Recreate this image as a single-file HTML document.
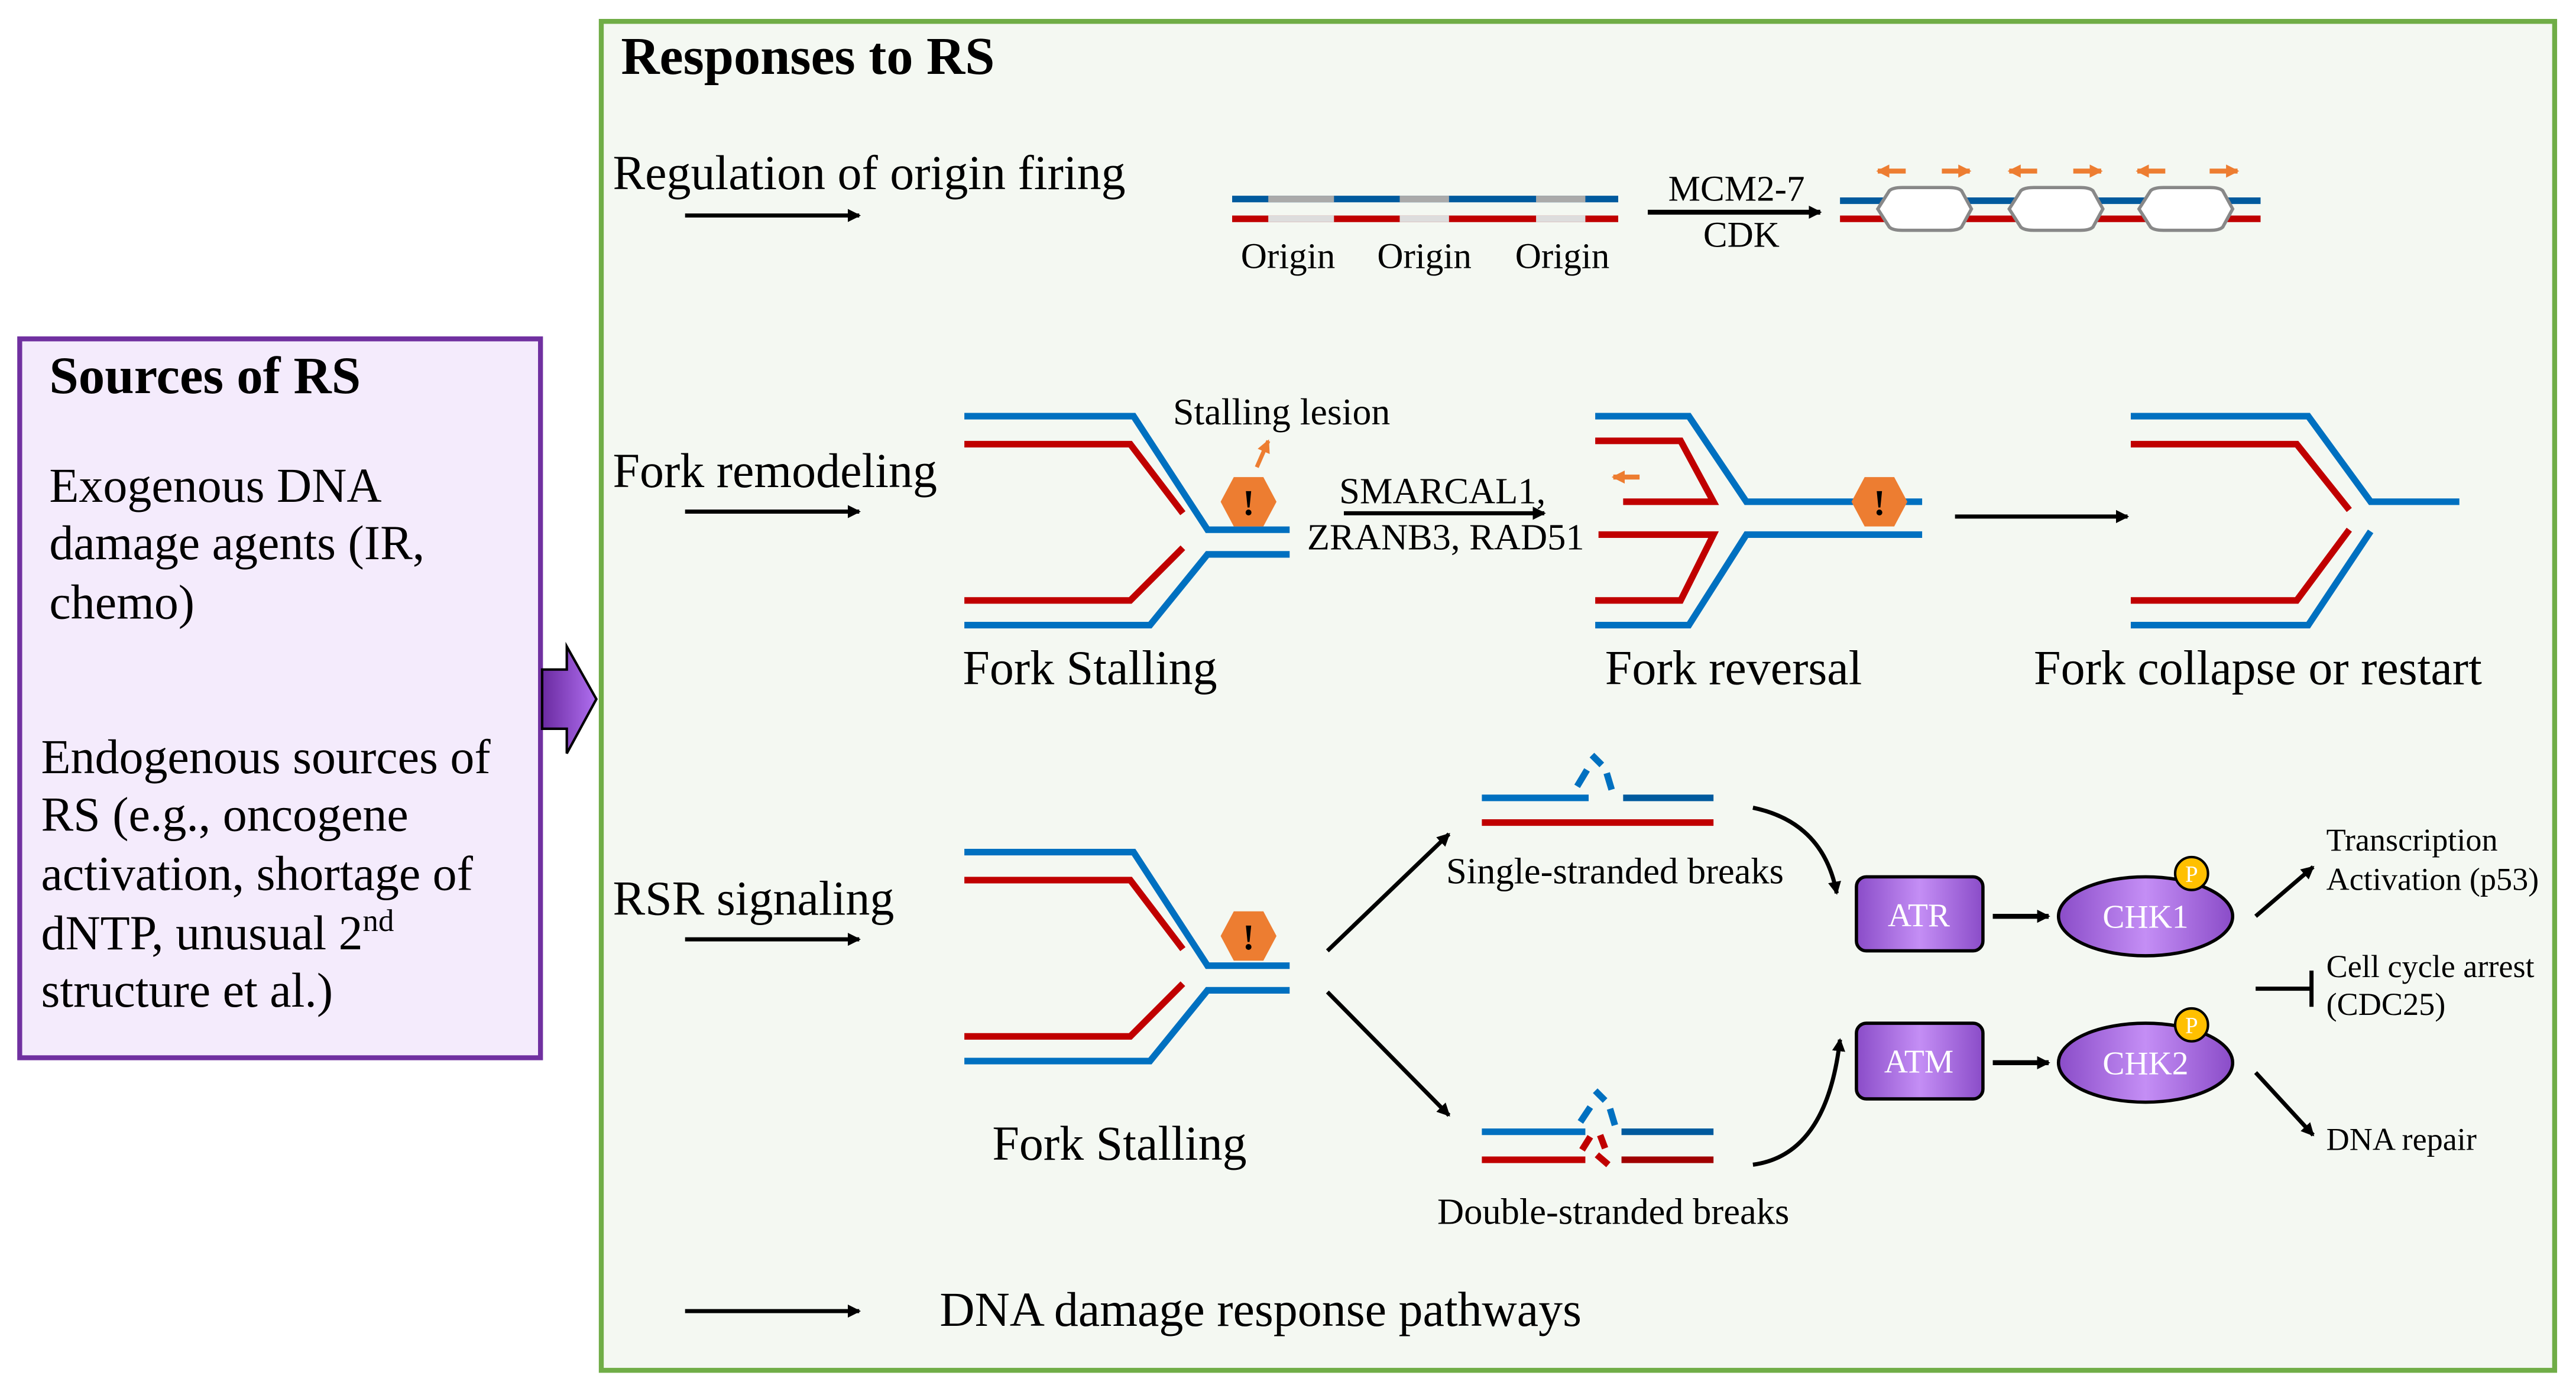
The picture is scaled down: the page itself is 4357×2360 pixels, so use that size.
<!DOCTYPE html>
<html><head><meta charset="utf-8"><style>html,body{margin:0;padding:0;background:#fff}svg{display:block}</style></head>
<body>
<svg width="4357" height="2360" viewBox="0 0 1568 848" preserveAspectRatio="none" xmlns="http://www.w3.org/2000/svg" font-family="'Liberation Serif', serif">
<defs>
<marker id="ah" markerWidth="8" markerHeight="8" refX="7" refY="4" orient="auto" markerUnits="userSpaceOnUse"><path d="M0,0 L8,4 L0,8 Z" fill="#000"/></marker>
<marker id="ao" markerWidth="8" markerHeight="8" refX="7" refY="4" orient="auto" markerUnits="userSpaceOnUse"><path d="M0,0 L8,4 L0,8 Z" fill="#ed7d31"/></marker>
<linearGradient id="pg" x1="0" x2="1" y1="0" y2="0"><stop offset="0" stop-color="#8a4cc8"/><stop offset="0.5" stop-color="#c48ef5"/><stop offset="1" stop-color="#8a4cc8"/></linearGradient>
<linearGradient id="ag" x1="0" x2="1"><stop offset="0" stop-color="#6a2aa0"/><stop offset="1" stop-color="#b06ff0"/></linearGradient>
<g id="hex"><polygon points="-17,0 -9,-15 9,-15 17,0 9,15 -9,15" fill="#ed7d31"/><text x="0" y="8" font-size="22" font-weight="bold" text-anchor="middle" fill="#000">!</text></g>
<g id="fork" fill="none" stroke-width="4">
<polyline points="587,253 690,253 735,322 785,322" stroke="#0070c0"/>
<polyline points="587,270 688,270 720,312" stroke="#c00000"/>
<polyline points="587,365 688,365 720,333" stroke="#c00000"/>
<polyline points="587,380 700,380 735,337 785,337" stroke="#0070c0"/>
</g>
</defs>

<rect x="12" y="206" width="317" height="437" fill="#f4ebfc" stroke="#7030a0" stroke-width="3"/>
<text x="30" y="239" font-size="32" font-weight="bold">Sources of RS</text>
<g font-size="29.5">
<text x="30" y="305">Exogenous DNA</text>
<text x="30" y="340">damage agents (IR,</text>
<text x="30" y="376">chemo)</text>
<text x="25" y="470">Endogenous sources of</text>
<text x="25" y="505">RS (e.g., oncogene</text>
<text x="25" y="541">activation, shortage of</text>
<text x="25" y="577">dNTP, unusual 2<tspan font-size="19" dy="-11">nd</tspan></text>
<text x="25" y="612">structure et al.)</text>
</g>
<polygon points="330,407 345,407 345,393 363,425 345,458 345,443 330,443" fill="url(#ag)" stroke="#000" stroke-width="1.5"/>

<rect x="366" y="13" width="1189" height="820" fill="#f4f8f2" stroke="#70ad47" stroke-width="3"/>
<text x="378" y="45" font-size="32.5" font-weight="bold">Responses to RS</text>

<g font-size="29.5">
<text x="373" y="115">Regulation of origin firing</text>
<text x="373" y="296">Fork remodeling</text>
<text x="373" y="556">RSR signaling</text>
<text x="572" y="806">DNA damage response pathways</text>
</g>
<g stroke="#000" stroke-width="2.5" marker-end="url(#ah)">
<line x1="417" y1="131" x2="523" y2="131"/>
<line x1="417" y1="311" x2="523" y2="311"/>
<line x1="417" y1="571" x2="523" y2="571"/>
<line x1="417" y1="797" x2="523" y2="797"/>
</g>

<g stroke-width="4">
<line x1="750" y1="121" x2="985" y2="121" stroke="#005a9e"/>
<line x1="750" y1="133" x2="985" y2="133" stroke="#c00000"/>
<g stroke="#aaa"><line x1="772" y1="121" x2="812" y2="121"/><line x1="852" y1="121" x2="882" y2="121"/><line x1="935" y1="121" x2="965" y2="121"/></g>
<g stroke="#ddd"><line x1="772" y1="133" x2="812" y2="133"/><line x1="852" y1="133" x2="882" y2="133"/><line x1="935" y1="133" x2="965" y2="133"/></g>
</g>
<g font-size="22" text-anchor="middle"><text x="784" y="163">Origin</text><text x="867" y="163">Origin</text><text x="951" y="163">Origin</text>
<text x="1057" y="122">MCM2-7</text><text x="1060" y="150">CDK</text></g>
<line x1="1003" y1="129" x2="1108" y2="129" stroke="#000" stroke-width="3" marker-end="url(#ah)"/>
<line x1="1120" y1="122" x2="1376" y2="122" stroke="#005a9e" stroke-width="4"/>
<line x1="1120" y1="133" x2="1376" y2="133" stroke="#c00000" stroke-width="4"/>
<g fill="#fff" stroke="#888" stroke-width="2">
<path d="M1143,127 L1150,116 Q1152,114 1158,114 L1186,114 Q1192,114 1194,116 L1200,127 L1194,138 Q1192,140 1186,140 L1158,140 Q1152,140 1150,138 Z"/>
<path d="M1223,127 L1230,116 Q1232,114 1238,114 L1266,114 Q1272,114 1274,116 L1280,127 L1274,138 Q1272,140 1266,140 L1238,140 Q1232,140 1230,138 Z"/>
<path d="M1302,127 L1309,116 Q1311,114 1317,114 L1345,114 Q1351,114 1353,116 L1359,127 L1353,138 Q1351,140 1345,140 L1317,140 Q1311,140 1309,138 Z"/>
</g>
<g stroke="#ed7d31" stroke-width="3" marker-end="url(#ao)">
<line x1="1160" y1="104" x2="1143" y2="104"/><line x1="1182" y1="104" x2="1199" y2="104"/>
<line x1="1240" y1="104" x2="1223" y2="104"/><line x1="1262" y1="104" x2="1279" y2="104"/>
<line x1="1318" y1="104" x2="1301" y2="104"/><line x1="1345" y1="104" x2="1362" y2="104"/>
</g>

<use href="#fork"/>
<use href="#hex" x="760" y="305"/>
<line x1="765" y1="284" x2="772" y2="268" stroke="#ed7d31" stroke-width="2.5" marker-end="url(#ao)"/>
<text x="714" y="258" font-size="23">Stalling lesion</text>
<line x1="818" y1="312" x2="940" y2="312" stroke="#000" stroke-width="2.5" marker-end="url(#ah)"/>
<g font-size="22.5" text-anchor="middle"><text x="878" y="306">SMARCAL1,</text><text x="880" y="334">ZRANB3, RAD51</text></g>
<g fill="none" stroke-width="4">
<polyline points="971,253 1028,253 1063,305 1170,305" stroke="#0070c0"/>
<polyline points="971,268 1023,268 1043,305 988,305" stroke="#c00000"/>
<polyline points="971,365 1023,365 1043,325 973,325" stroke="#c00000"/>
<polyline points="971,380 1028,380 1063,325 1170,325" stroke="#0070c0"/>
</g>
<line x1="998" y1="290" x2="982" y2="290" stroke="#ed7d31" stroke-width="3" marker-end="url(#ao)"/>
<use href="#hex" x="1144" y="305"/>
<line x1="1190" y1="314" x2="1295" y2="314" stroke="#000" stroke-width="2.5" marker-end="url(#ah)"/>
<g fill="none" stroke-width="4">
<polyline points="1297,253 1405,253 1443,305 1497,305" stroke="#0070c0"/>
<polyline points="1297,270 1398,270 1430,310" stroke="#c00000"/>
<polyline points="1297,365 1398,365 1430,322" stroke="#c00000"/>
<polyline points="1297,380 1405,380 1443,323" stroke="#0070c0"/>
</g>
<g font-size="29.5"><text x="586" y="416">Fork Stalling</text><text x="977" y="416">Fork reversal</text><text x="1238" y="416">Fork collapse or restart</text></g>

<use href="#fork" y="265"/>
<use href="#hex" x="760" y="569"/>
<text x="604" y="705" font-size="29.5">Fork Stalling</text>
<g stroke="#000" stroke-width="2.5" marker-end="url(#ah)">
<line x1="808" y1="578" x2="882" y2="507"/>
<line x1="808" y1="603" x2="882" y2="678"/>
</g>
<g stroke-width="4">
<line x1="902" y1="485" x2="967" y2="485" stroke="#0070c0"/><line x1="988" y1="485" x2="1043" y2="485" stroke="#005a9e"/>
<line x1="902" y1="500" x2="1043" y2="500" stroke="#c00000"/>
<path d="M960,478 L966,468 M969,459 L975,465 M978,470 L981,480" stroke="#0070c0" fill="none"/>
<line x1="902" y1="688" x2="965" y2="688" stroke="#0070c0"/><line x1="987" y1="688" x2="1043" y2="688" stroke="#005a9e"/>
<line x1="902" y1="705" x2="965" y2="705" stroke="#c00000"/><line x1="987" y1="705" x2="1043" y2="705" stroke="#a00000"/>
<path d="M962,682 L968,673 M971,663 L977,669 M980,674 L983,684" stroke="#0070c0" fill="none"/>
<path d="M963,699 L968,691 M974,690 L977,698 M972,702 L979,708" stroke="#c00000" fill="none"/>
</g>
<g font-size="22.5" text-anchor="middle"><text x="983" y="537">Single-stranded breaks</text><text x="982" y="744">Double-stranded breaks</text></g>
<g fill="none" stroke="#000" stroke-width="2.5" marker-end="url(#ah)">
<path d="M1067,491 Q1110,500 1118,543"/>
<path d="M1067,708 Q1112,702 1120,632"/>
</g>
<rect x="1130" y="533" width="77" height="45" rx="6" fill="url(#pg)" stroke="#000" stroke-width="2"/>
<rect x="1130" y="622" width="77" height="46" rx="6" fill="url(#pg)" stroke="#000" stroke-width="2"/>
<ellipse cx="1306" cy="557" rx="53" ry="24" fill="url(#pg)" stroke="#000" stroke-width="2"/>
<ellipse cx="1306" cy="646" rx="53" ry="24" fill="url(#pg)" stroke="#000" stroke-width="2"/>
<g fill="#ffc000" stroke="#000" stroke-width="1.5"><circle cx="1334" cy="531" r="10"/><circle cx="1334" cy="623" r="10"/></g>
<g font-size="14" fill="#fff" text-anchor="middle"><text x="1334" y="536">P</text><text x="1334" y="628">P</text></g>
<g font-size="20" fill="#fff" text-anchor="middle"><text x="1168" y="563">ATR</text><text x="1168" y="652">ATM</text><text x="1306" y="564">CHK1</text><text x="1306" y="653">CHK2</text></g>
<g stroke="#000" stroke-width="3" marker-end="url(#ah)">
<line x1="1213" y1="557" x2="1247" y2="557"/><line x1="1213" y1="646" x2="1247" y2="646"/>
</g>
<g stroke="#000" stroke-width="2.5">
<line x1="1373" y1="557" x2="1408" y2="527" marker-end="url(#ah)"/>
<line x1="1373" y1="652" x2="1408" y2="690" marker-end="url(#ah)"/>
<line x1="1373" y1="601" x2="1407" y2="601"/><line x1="1407" y1="590" x2="1407" y2="612"/>
</g>
<g font-size="19.5"><text x="1416" y="517">Transcription</text><text x="1416" y="541">Activation (p53)</text><text x="1416" y="594">Cell cycle arrest</text><text x="1416" y="617">(CDC25)</text><text x="1416" y="699">DNA repair</text></g>
</svg>
</body></html>
